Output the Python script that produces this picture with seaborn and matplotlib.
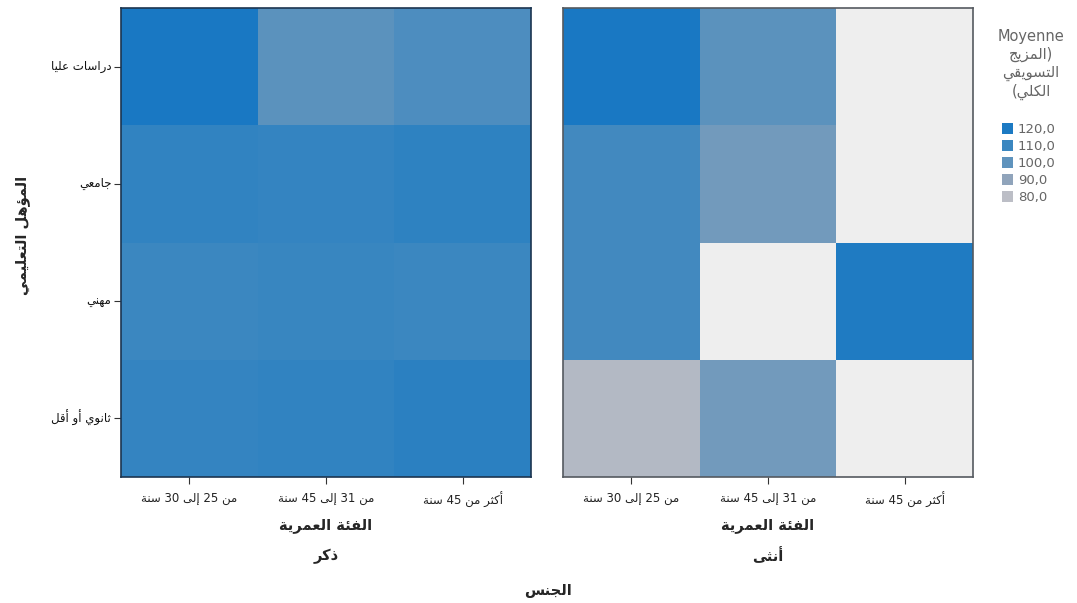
import numpy as np
import pandas as pd
import matplotlib
matplotlib.use("Agg")
import matplotlib.pyplot as plt
from matplotlib.colors import LinearSegmentedColormap, Normalize
from matplotlib.patches import Patch
import seaborn as sns

# ---- data -------------------------------------------------------------
education = ["دراسات عليا", "جامعي", "مهني", "ثانوي أو أقل"]
age_groups = ["من 25 إلى 30 سنة", "من 31 إلى 45 سنة", "أكثر من 45 سنة"]
genders = ["ذكر", "أنثى"]

male_means = [
    [121.0, 101.0, 105.0],
    [113.0, 112.0, 114.0],
    [110.0, 111.0, 110.0],
    [112.0, 113.0, 115.0],
]
female_means = [
    [121.0, 101.0, np.nan],
    [108.0, 96.0, np.nan],
    [108.0, np.nan, 119.0],
    [82.0, 96.0, np.nan],
]
legend_values = [120.0, 110.0, 100.0, 90.0, 80.0]

x_title = "الفئة العمرية"
y_title = "المؤهل التعليمي"
panel_title = "الجنس"
legend_title_lines = ["Moyenne", "(المزيج", "التسويقي", "الكلي)"]

sns.set_style("white")
plt.rcParams["font.family"] = ["DejaVu Sans"]

# ---- minimal Arabic shaping (presentation forms) -----------------------
_D, _R = "D", "R"
_FORMS = {
    "ء": (0xFE80, None), "آ": (0xFE81, _R), "أ": (0xFE83, _R), "ؤ": (0xFE85, _R),
    "إ": (0xFE87, _R), "ئ": (0xFE89, _D), "ا": (0xFE8D, _R), "ب": (0xFE8F, _D),
    "ة": (0xFE93, _R), "ت": (0xFE95, _D), "ث": (0xFE99, _D), "ج": (0xFE9D, _D),
    "ح": (0xFEA1, _D), "خ": (0xFEA5, _D), "د": (0xFEA9, _R), "ذ": (0xFEAB, _R),
    "ر": (0xFEAD, _R), "ز": (0xFEAF, _R), "س": (0xFEB1, _D), "ش": (0xFEB5, _D),
    "ص": (0xFEB9, _D), "ض": (0xFEBD, _D), "ط": (0xFEC1, _D), "ظ": (0xFEC5, _D),
    "ع": (0xFEC9, _D), "غ": (0xFECD, _D), "ف": (0xFED1, _D), "ق": (0xFED5, _D),
    "ك": (0xFED9, _D), "ل": (0xFEDD, _D), "م": (0xFEE1, _D), "ن": (0xFEE5, _D),
    "ه": (0xFEE9, _D), "و": (0xFEED, _R), "ى": (0xFEEF, _R), "ي": (0xFEF1, _D),
}
_LAM_ALEF = {"آ": 0xFEF5, "أ": 0xFEF7, "إ": 0xFEF9, "ا": 0xFEFB}
_MIRROR = {"(": ")", ")": "("}


def _renderer_reorders_rtl():
    """True when the text engine lays out right-to-left runs itself."""
    f = plt.figure(figsize=(3, 1), dpi=100)
    f.text(0.5, 0.5, "\uFE8D\uFE8D\uFE8D\uFE8F\uFE8F\uFE8F", ha="center",
           va="center", fontsize=30, family="DejaVu Sans")
    f.canvas.draw()
    ink = np.asarray(f.canvas.buffer_rgba())[..., 0] < 128
    plt.close(f)
    cols = np.where(ink.any(axis=0))[0]
    if cols.size == 0:
        return False
    mid = (cols.min() + cols.max()) / 2
    left = np.where(ink[:, cols[cols < mid]].any(axis=1))[0]
    right = np.where(ink[:, cols[cols >= mid]].any(axis=1))[0]
    # alef is the taller glyph: if it lands on the right, runs were reversed
    return right.min() < left.min()


_REORDERS = _renderer_reorders_rtl()


def _shape_word(word, visual):
    tokens = []
    i = 0
    while i < len(word):
        c = word[i]
        if c == "ل" and i + 1 < len(word) and word[i + 1] in _LAM_ALEF:
            tokens.append((_LAM_ALEF[word[i + 1]], _R))
            i += 2
            continue
        tokens.append(_FORMS.get(c, (c, None)))
        i += 1
    out = []
    for k, (base, jt) in enumerate(tokens):
        if jt is None:
            out.append(base if isinstance(base, str) else chr(base))
            continue
        prev_ok = k > 0 and tokens[k - 1][1] == _D
        next_ok = jt == _D and k + 1 < len(tokens) and tokens[k + 1][1] in (_D, _R)
        if prev_ok and next_ok:
            code = base + 3
        elif prev_ok:
            code = base + 1
        elif next_ok:
            code = base + 2
        else:
            code = base
        out.append(chr(code))
    if visual and any(ch in _FORMS for ch in word):
        out = [_MIRROR.get(ch, ch) for ch in reversed(out)]
    return "".join(out)


def ar(text):
    """Right-to-left text ready for a left-to-right glyph renderer."""
    words = text.split(" ")
    if _REORDERS:
        return " ".join(_shape_word(w, visual=False) for w in words)
    if not any(ch in _FORMS for ch in text):
        return text
    return " ".join(_shape_word(w, visual=True) for w in reversed(words))


# ---- colours --------------------------------------------------------------
vmin, vmax = 80.0, 122.0
stops = [(80, "#bcbec6"), (90, "#8fa4bb"), (100, "#5f93bd"),
         (110, "#3b87c0"), (122, "#1677c3")]
cmap = LinearSegmentedColormap.from_list(
    "means", [((v - vmin) / (vmax - vmin), c) for v, c in stops])
norm = Normalize(vmin=vmin, vmax=vmax)

fig = plt.figure(figsize=(10.77, 6.03), dpi=100)
ax_m = fig.add_axes([121 / 1077, 1 - 477 / 603, 410 / 1077, 469 / 603])
ax_f = fig.add_axes([563 / 1077, 1 - 477 / 603, 410 / 1077, 469 / 603])

row_labels = [ar(e) for e in education]
col_labels = [ar(a) for a in age_groups]

for ax, data, gender, edge in [(ax_m, male_means, genders[0], "#1c3550"),
                               (ax_f, female_means, genders[1], "#555a60")]:
    df = pd.DataFrame(data, index=row_labels, columns=col_labels)
    ax.set_facecolor("#eeeeee")
    sns.heatmap(df, ax=ax, cmap=cmap, vmin=vmin, vmax=vmax, cbar=False,
                linewidths=0, mask=df.isna())
    for s in ax.spines.values():
        s.set_visible(True)
        s.set_color(edge)
        s.set_linewidth(1.2)
    ax.tick_params(axis="x", bottom=True, length=5, width=0.8, color="#333333",
                   labelsize=8.5, labelcolor="#222222", pad=6, rotation=0)
    ax.set_xlabel(ar(x_title), fontsize=10.5, fontweight="bold", labelpad=7)
    pos = ax.get_position()
    fig.text(pos.x0 + pos.width / 2, 1 - 556 / 603, ar(gender), ha="center",
             va="center", fontsize=10.5, fontweight="bold")

ax_m.tick_params(axis="y", left=True, length=5, width=0.8, color="#333333",
                 labelsize=8.5, labelcolor="#111111", pad=2, rotation=0)
ax_m.set_ylabel(ar(y_title), fontsize=10.5, fontweight="bold")
ax_m.yaxis.set_label_coords((30 - 121) / 410, 0.515)
ax_f.set_yticks([])
ax_f.set_ylabel("")

fig.text(548 / 1077, 1 - 591 / 603, ar(panel_title), ha="center", va="center",
         fontsize=10.5, fontweight="bold")

# legend: title lines and colour steps
for k, line in enumerate(legend_title_lines):
    fig.text(1031 / 1077, 1 - (36 + 18.5 * k) / 603, ar(line),
             ha="center", va="center", fontsize=10.5, color="#666666")

handles = [Patch(facecolor=cmap(norm(v)), edgecolor="none",
                 label=f"{v:.1f}".replace(".", ",")) for v in legend_values]
leg = fig.legend(handles=handles, loc="upper left",
                 bbox_to_anchor=(1002 / 1077, 1 - 123 / 603), frameon=False,
                 fontsize=9.5, handlelength=0.8, handleheight=0.9,
                 handletextpad=0.4, labelspacing=0.3,
                 borderaxespad=0, borderpad=0)
for t in leg.get_texts():
    t.set_color("#666666")

fig.savefig("out.png", dpi=100)
